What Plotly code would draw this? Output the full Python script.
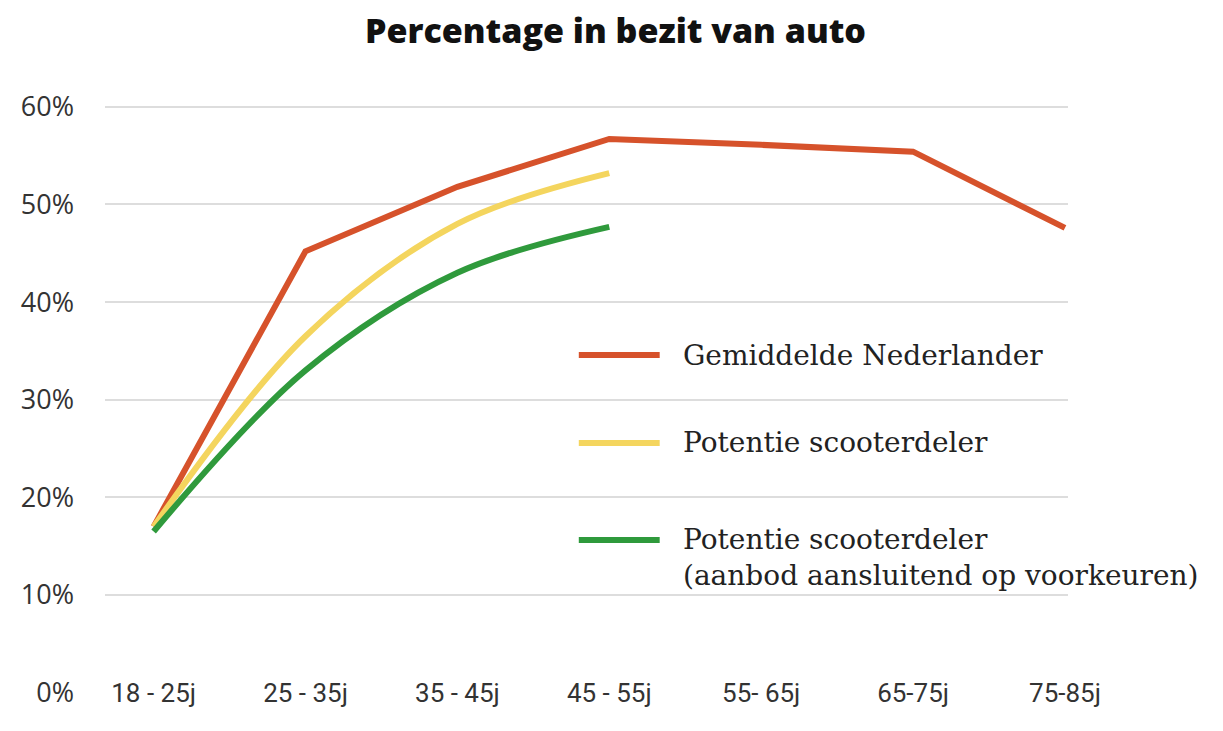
import plotly.graph_objects as go

# leeftijdsgroepen en percentage autobezit
age_groups = ['18 - 25j', '25 - 35j', '35 - 45j', '45 - 55j', '55- 65j', '65-75j', '75-85j']
gemiddeld = [17, 45.2, 51.8, 56.7, 56.1, 55.4, 47.6]
potentie = [17, 36.5, 48, 53.2]
potentie_voorkeur = [16.5, 33, 43, 47.7]

y_ticks = [0, 10, 20, 30, 40, 50, 60]
y_tick_labels = ['0%', '10%', '20%', '30%', '40%', '50%', '60%']

series_names = [
    'Gemiddelde Nederlander',
    'Potentie scooterdeler',
    'Potentie scooterdeler<br>(aanbod aansluitend op voorkeuren)',
]

RED = '#D6522B'
YELLOW = '#F4D55E'
GREEN = '#2F9A3C'
colors = [RED, YELLOW, GREEN]

x_idx = list(range(len(age_groups)))

fig = go.Figure()
fig.add_trace(go.Scatter(
    x=x_idx, y=gemiddeld, mode='lines',
    line=dict(color=RED, width=6), name=series_names[0]))
fig.add_trace(go.Scatter(
    x=x_idx[:len(potentie)], y=potentie, mode='lines',
    line=dict(color=YELLOW, width=6, shape='spline', smoothing=1.0), name=series_names[1]))
fig.add_trace(go.Scatter(
    x=x_idx[:len(potentie_voorkeur)], y=potentie_voorkeur, mode='lines',
    line=dict(color=GREEN, width=6, shape='spline', smoothing=1.0), name=series_names[2]))

# eigen legenda (lange lijnstukjes, serif tekst)
legend_y = [0.5845, 0.443, 0.2866]
text_y = [0.5845, 0.443, 0.258]
for name, color, ly, ty in zip(series_names, colors, legend_y, text_y):
    fig.add_shape(type='line', xref='paper', yref='paper',
                  x0=0.492, x1=0.576, y0=ly, y1=ly,
                  line=dict(color=color, width=6))
    fig.add_annotation(xref='paper', yref='paper', x=0.598, y=ty,
                       text=name, showarrow=False, xanchor='left', yanchor='middle',
                       align='left',
                       font=dict(family='DejaVu Serif', size=28, color='#222'))

# de pagina heeft 8px body-marge, daarom iets kleiner dan het venster
fig.update_layout(
    title=dict(text='Percentage in bezit van auto', x=0.5, xref='container',
               y=0.968, yref='container', yanchor='middle', xanchor='center',
               font=dict(family='Open Sans', size=34, color='#111', weight=800)),
    width=1215, height=723,
    margin=dict(l=97, r=155, t=89, b=13),
    plot_bgcolor='white', paper_bgcolor='white',
    showlegend=False,
)
fig.update_xaxes(
    tickvals=x_idx, ticktext=age_groups,
    range=[-0.32, 6.02], showgrid=False, zeroline=False, showline=False,
    ticklabelposition='inside', ticklabelstandoff=8, ticks='',
    ticklabeloverflow='allow',
    tickfont=dict(family='Liberation Sans Narrow, Roboto', size=26, color='#333'),
)
fig.update_yaxes(
    tickvals=y_ticks, ticktext=y_tick_labels,
    range=[-2.6, 61], showgrid=False, zeroline=False, showline=False,
    ticks='', ticklabelstandoff=30, ticklabeloverflow='allow',
    tickfont=dict(family='Open Sans', size=27, color='#333'),
    minor=dict(tickvals=y_ticks[1:], showgrid=True, gridcolor='#DDDDDD', gridwidth=1.5),
)

fig.write_html('out.html')
